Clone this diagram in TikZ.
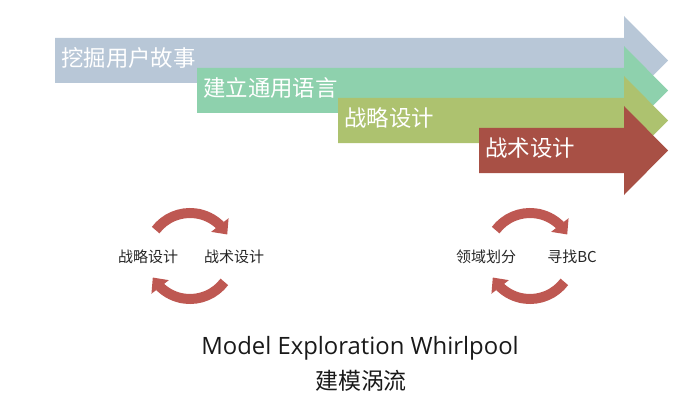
\documentclass[tikz,border=0pt]{standalone}
\usepackage{fontspec}
\setmainfont{Open Sans}
\newfontfamily\cjk{Noto Sans CJK SC}
\usetikzlibrary{arrows.meta,bending}
\definecolor{bandA}{RGB}{184,199,215}
\definecolor{bandB}{RGB}{142,209,173}
\definecolor{bandC}{RGB}{173,194,111}
\definecolor{bandD}{RGB}{168,80,69}
\definecolor{whirlred}{RGB}{190,88,82}

\begin{document}
\begin{tikzpicture}[x=0.75pt, y=0.75pt,
    bandtxt/.style={anchor=west, inner sep=0pt, text=white, font=\cjk\fontsize{16.8}{18}\selectfont},
    lbl/.style={inner sep=0pt, text=black!85, font=\cjk\fontsize{11.25}{13}\selectfont},
    whirl/.style={whirlred, line width=7.5pt, -{Triangle[width=16pt,length=9pt]}}
]
\useasboundingbox (0,0) rectangle (700,-403);

% four stages, each one laid over the one before
\foreach \x/\y/\c/\n/\t in {55/-38/bandA/dig/挖掘用户故事, 197/-68/bandB/lang/建立通用语言,
    338/-98/bandC/strat/战略设计, 479/-128/bandD/tact/战术设计}{
  \fill[\c] (\x,\y) -- (624,\y) -- (624,\y+22) -- (668,\y-22.5) -- (624,\y-67) -- (624,\y-45) -- (\x,\y-45) -- cycle;
  \node[bandtxt] (\n) at (\x+6,\y-20) {\t};
}

% two whirls
\coordinate (lc) at (190,-256);
\coordinate (rc) at (530,-256);
\foreach \c in {lc,rc}{
  \draw[whirl] ([shift={(143:43)}]\c) arc[start angle=143, end angle=30, radius=43];
  \draw[whirl] ([shift={(-37:43)}]\c) arc[start angle=-37, end angle=-150, radius=43];
}
\node[lbl] (ls) at (148,-257) {战略设计};
\node[lbl] (lt) at (234,-257) {战术设计};
\node[lbl] (rd) at (486,-257) {领域划分};
\node[lbl] (rb) at (572,-257) {寻找BC};

\node[text=black!90, font=\fontsize{17.9}{20}\selectfont] (title) at (360,-348) {Model Exploration Whirlpool};
\node[text=black!90, font=\cjk\fontsize{17.2}{19}\selectfont] (subtitle) at (361,-381) {建模涡流};
\end{tikzpicture}
\end{document}
